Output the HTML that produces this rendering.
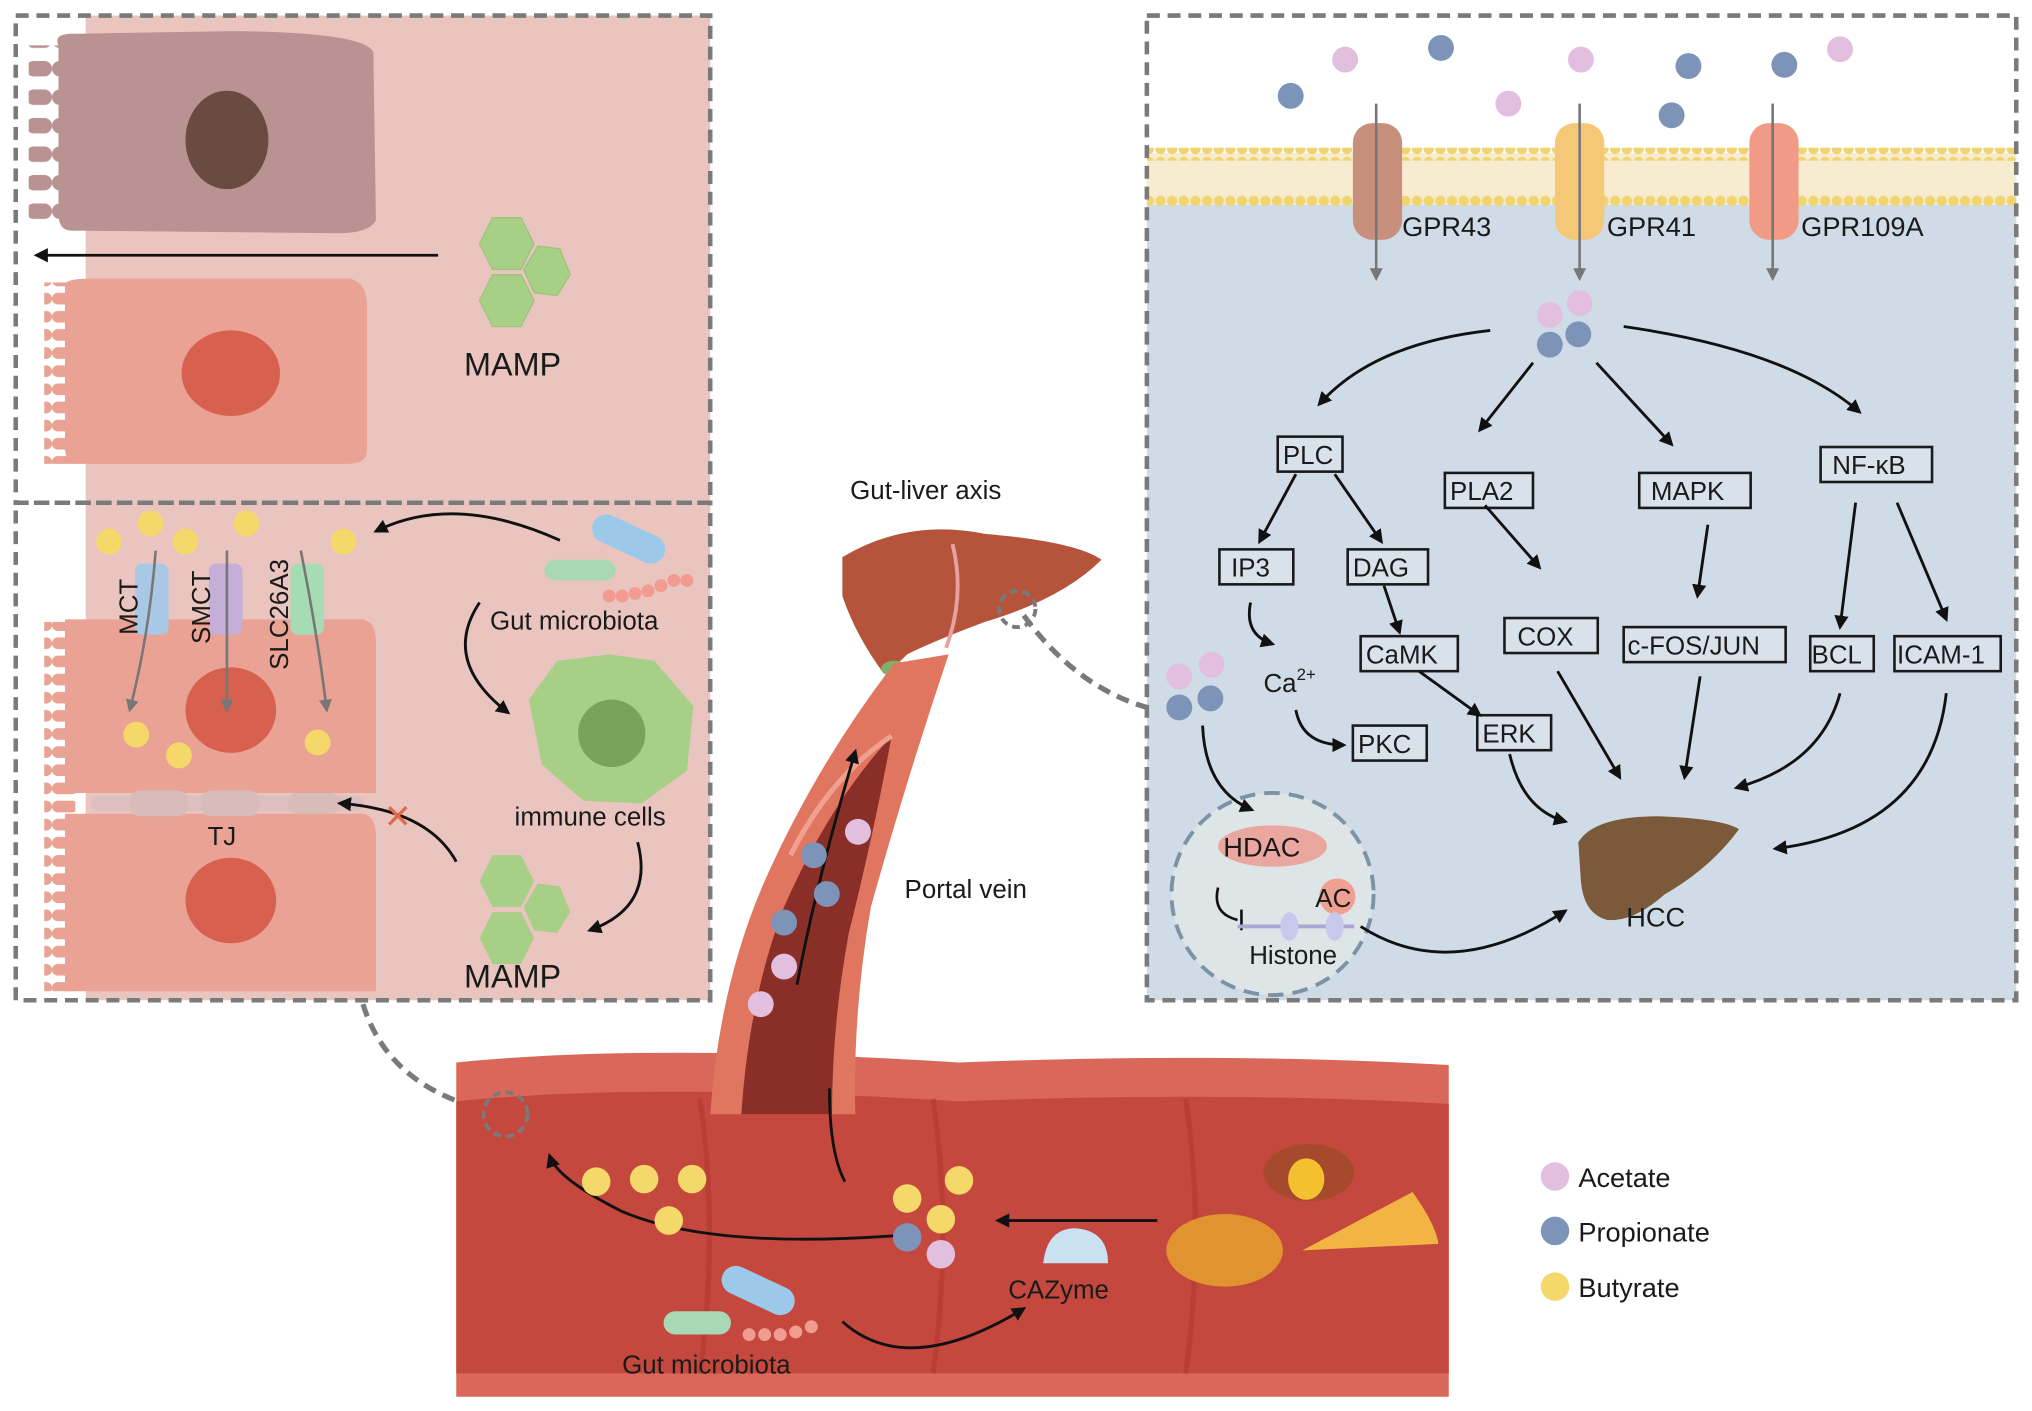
<!DOCTYPE html>
<html><head><meta charset="utf-8"><style>
html,body{margin:0;padding:0;background:#fff}
svg{display:block}
text{font-family:"Liberation Sans",Arial,sans-serif;fill:#1a1a1a}
.bx{fill:#d9e2ea;stroke:#1a1a1a;stroke-width:2}
.ar{fill:none;stroke:#111;stroke-width:2.2;marker-end:url(#ah)}
</style></head><body>
<svg width="2032" height="1411" viewBox="0 0 1568 1089" xmlns="http://www.w3.org/2000/svg">
<defs>
<marker id="ah" viewBox="0 0 10 10" refX="8" refY="5" markerWidth="5" markerHeight="5" orient="auto"><path d="M0,0L10,5L0,10z" fill="#111"/></marker>
<marker id="ag" viewBox="0 0 10 10" refX="8" refY="5" markerWidth="5" markerHeight="5" orient="auto"><path d="M0,0L10,5L0,10z" fill="#777"/></marker>
<pattern id="lip" width="9" height="10" patternUnits="userSpaceOnUse"><circle cx="4.5" cy="5" r="4" fill="#f0d470"/></pattern>
<pattern id="mv" width="20" height="14" patternUnits="userSpaceOnUse"><rect x="0" y="2" width="20" height="9" rx="4.5" fill="#e9a294"/></pattern>
<pattern id="mv2" width="20" height="22" patternUnits="userSpaceOnUse"><rect x="0" y="3" width="20" height="12" rx="6" fill="#b89392"/></pattern>
</defs>
<!-- left panels -->
<rect x="12" y="12" width="536" height="760" fill="#fff"/>
<rect x="66" y="12" width="482" height="760" fill="#eac5bf"/>
<!-- top cells -->
<rect x="22" y="35" width="30" height="140" fill="url(#mv2)"/>
<path d="M45,35 Q40,25 60,26 L180,24 Q280,25 288,40 L290,170 Q285,180 260,180 L55,178 Q45,178 45,165 Z" fill="#b89392"/>
<ellipse cx="175" cy="108" rx="32" ry="38" fill="#6b4a42"/>
<rect x="34" y="218" width="24" height="140" fill="url(#mv)"/>
<path d="M50,220 Q50,215 70,215 L270,215 Q283,218 283,235 L283,348 Q283,358 268,358 L60,358 Q50,358 50,345Z" fill="#e9a294"/>
<ellipse cx="178" cy="288" rx="38" ry="33" fill="#d8604f"/>
<line x1="338" y1="197" x2="28" y2="197" class="ar"/>
<g fill="#a8cf86" stroke="#9cc47a"><polygon points="380,168 402,168 412,188 402,208 380,208 370,188"/><polygon points="415,190 432,192 440,212 430,228 412,226 404,208"/><polygon points="380,212 402,212 412,232 402,252 380,252 370,232"/></g>
<text x="358" y="290" font-size="25">MAMP</text>
<rect x="12" y="12" width="536" height="376" fill="none" stroke="#7a7a7a" stroke-width="3.5" stroke-dasharray="10,6"/>
<!-- bottom cells -->
<rect x="34" y="480" width="24" height="285" fill="url(#mv)"/>
<path d="M50,478 L280,478 Q290,480 290,495 L290,612 L50,612Z" fill="#e9a294"/>
<path d="M50,628 L280,628 Q290,630 290,645 L290,765 L50,765Z" fill="#e9a294"/>
<ellipse cx="178" cy="548" rx="35" ry="33" fill="#d8604f"/>
<ellipse cx="178" cy="695" rx="35" ry="33" fill="#d8604f"/>
<rect x="70" y="614" width="210" height="12" rx="6" fill="#dcc0bf"/>
<rect x="100" y="610" width="45" height="20" rx="8" fill="#d8bcba"/><rect x="155" y="610" width="45" height="20" rx="8" fill="#d8bcba"/><rect x="222" y="612" width="40" height="16" rx="7" fill="#d8bcba"/>
<text x="160" y="652" font-size="20">TJ</text>
<g fill="#f4d86a"><circle cx="84" cy="418" r="10"/><circle cx="116" cy="404" r="10"/><circle cx="143" cy="418" r="10"/><circle cx="190" cy="404" r="10"/><circle cx="265" cy="418" r="10"/><circle cx="105" cy="567" r="10"/><circle cx="138" cy="583" r="10"/><circle cx="245" cy="573" r="10"/></g>
<rect x="104" y="435" width="26" height="55" rx="6" fill="#a9c8e6"/><rect x="161" y="435" width="26" height="55" rx="6" fill="#c5aed8"/><rect x="224" y="435" width="26" height="55" rx="6" fill="#a5dcb3"/>
<g stroke="#777" stroke-width="2" fill="none" marker-end="url(#ag)"><path d="M120,425 Q115,490 100,548"/><path d="M175,425 L175,548"/><path d="M232,425 Q245,490 252,548"/></g>
<text transform="translate(106,490) rotate(-90)" font-size="20">MCT</text>
<text transform="translate(162,497) rotate(-90)" font-size="20">SMCT</text>
<text transform="translate(222,517) rotate(-90)" font-size="20">SLC26A3</text>
<path d="M432,417 Q350,380 290,410" class="ar"/>
<rect x="455" y="405" width="60" height="22" rx="11" fill="#9cc9ea" transform="rotate(25 485 416)"/>
<rect x="420" y="432" width="55" height="16" rx="8" fill="#a8d8b5"/>
<g fill="#f29b90"><circle cx="470" cy="460" r="5"/><circle cx="480" cy="460" r="5"/><circle cx="490" cy="458" r="5"/><circle cx="500" cy="456" r="5"/><circle cx="510" cy="452" r="5"/><circle cx="520" cy="448" r="5"/><circle cx="530" cy="448" r="5"/></g>
<text x="378" y="486" font-size="20">Gut microbiota</text>
<path d="M370,465 Q340,510 392,550" class="ar"/>
<polygon points="470,505 505,510 535,545 530,595 495,620 450,618 418,590 408,540 430,510" fill="#a8cf86"/>
<circle cx="472" cy="566" r="26" fill="#7aa35a"/>
<text x="397" y="637" font-size="20">immune cells</text>
<path d="M492,650 Q505,700 455,718" class="ar"/>
<g fill="#a8cf86"><polygon points="380,660 402,660 412,680 402,700 380,700 370,680"/><polygon points="415,682 432,684 440,704 430,720 412,718 404,700"/><polygon points="380,704 402,704 412,724 402,744 380,744 370,724"/></g>
<text x="358" y="762" font-size="25">MAMP</text>
<path d="M352,665 Q330,625 262,620" class="ar"/>
<text x="296" y="639" font-size="26" style="fill:#e06a4a">✕</text>
<rect x="12" y="388" width="536" height="384" fill="none" stroke="#7a7a7a" stroke-width="3.5" stroke-dasharray="10,6"/>
<path d="M280,775 Q300,840 380,858" fill="none" stroke="#7a7a7a" stroke-width="4" stroke-dasharray="10,6"/>
<!-- right panel -->
<rect x="885" y="12" width="671" height="760" fill="#fff"/>
<rect x="885" y="130" width="671" height="642" fill="#cfdbe6"/>
<rect x="885" y="118" width="671" height="40" fill="#f7ecd0"/>
<rect x="885" y="114" width="671" height="10" fill="url(#lip)"/><rect x="885" y="150" width="671" height="10" fill="url(#lip)"/>
<rect x="1044" y="95" width="38" height="90" rx="15" fill="#c8907c"/>
<rect x="1200" y="95" width="38" height="90" rx="15" fill="#f5c878"/>
<rect x="1350" y="95" width="38" height="90" rx="15" fill="#f19a85"/>
<g stroke="#777" stroke-width="2" marker-end="url(#ag)"><line x1="1062" y1="80" x2="1062" y2="215"/><line x1="1219" y1="80" x2="1219" y2="215"/><line x1="1368" y1="80" x2="1368" y2="215"/></g>
<text x="1082" y="182" font-size="21">GPR43</text><text x="1240" y="182" font-size="21">GPR41</text><text x="1390" y="182" font-size="21">GPR109A</text>
<g fill="#e3bfdf"><circle cx="1038" cy="46" r="10"/><circle cx="1164" cy="80" r="10"/><circle cx="1220" cy="46" r="10"/><circle cx="1420" cy="38" r="10"/><circle cx="1196" cy="243" r="10"/><circle cx="1219" cy="234" r="10"/><circle cx="910" cy="522" r="10"/><circle cx="935" cy="513" r="10"/></g>
<g fill="#7d93b8"><circle cx="996" cy="74" r="10"/><circle cx="1112" cy="37" r="10"/><circle cx="1303" cy="51" r="10"/><circle cx="1290" cy="89" r="10"/><circle cx="1377" cy="50" r="10"/><circle cx="1196" cy="266" r="10"/><circle cx="1218" cy="258" r="10"/><circle cx="910" cy="546" r="10"/><circle cx="934" cy="539" r="10"/></g>
<path d="M1150,255 Q1060,265 1018,312" class="ar"/>
<path d="M1183,280 L1142,332" class="ar"/>
<path d="M1232,280 L1290,343" class="ar"/>
<path d="M1253,252 Q1380,270 1435,318" class="ar"/>
<g font-size="20">
<rect x="986" y="337" width="50" height="27" class="bx"/><text x="990" y="358">PLC</text>
<rect x="1115" y="365" width="68" height="27" class="bx"/><text x="1119" y="386">PLA2</text>
<rect x="1265" y="365" width="86" height="27" class="bx"/><text x="1274" y="386">MAPK</text>
<rect x="1405" y="345" width="86" height="27" class="bx"/><text x="1414" y="366">NF-κB</text>
<rect x="941" y="424" width="57" height="27" class="bx"/><text x="950" y="445">IP3</text>
<rect x="1040" y="424" width="62" height="27" class="bx"/><text x="1044" y="445">DAG</text>
<rect x="1050" y="491" width="75" height="27" class="bx"/><text x="1054" y="512">CaMK</text>
<rect x="1161" y="477" width="72" height="27" class="bx"/><text x="1171" y="498">COX</text>
<rect x="1253" y="484" width="125" height="27" class="bx"/><text x="1256" y="505">c-FOS/JUN</text>
<rect x="1397" y="491" width="49" height="27" class="bx"/><text x="1398" y="512">BCL</text>
<rect x="1462" y="491" width="82" height="27" class="bx"/><text x="1464" y="512">ICAM-1</text>
<rect x="1044" y="560" width="57" height="27" class="bx"/><text x="1048" y="581">PKC</text>
<rect x="1140" y="552" width="57" height="27" class="bx"/><text x="1144" y="573">ERK</text>
<text x="975" y="534">Ca<tspan font-size="13" dy="-9">2+</tspan></text>
</g>
<path d="M1000,366 L972,418" class="ar"/><path d="M1030,366 L1066,418" class="ar"/>
<path d="M1068,452 L1080,488" class="ar"/><path d="M1095,518 L1142,552" class="ar"/>
<path d="M965,465 Q960,490 982,497" class="ar"/><path d="M1000,548 Q1005,575 1037,575" class="ar"/>
<path d="M1146,390 L1188,438" class="ar"/><path d="M1318,405 L1310,460" class="ar"/>
<path d="M1432,388 L1420,484" class="ar"/><path d="M1464,388 L1502,478" class="ar"/>
<path d="M1202,518 L1250,600" class="ar"/><path d="M1312,522 L1300,600" class="ar"/>
<path d="M1165,582 Q1175,625 1208,634" class="ar"/>
<path d="M1420,535 Q1405,590 1340,608" class="ar"/>
<path d="M1502,535 Q1490,640 1370,655" class="ar"/>
<circle cx="982" cy="690" r="78" fill="#dde5e6" stroke="#7c93a6" stroke-width="3" stroke-dasharray="12,7"/>
<path d="M928,560 Q930,610 966,625" class="ar"/>
<ellipse cx="982" cy="653" rx="42" ry="16" fill="#e9a7a0"/><text x="944" y="661" font-size="21">HDAC</text>
<circle cx="1032" cy="692" r="14" fill="#f0a090"/><text x="1015" y="700" font-size="20">AC</text>
<path d="M940,685 Q935,705 955,710 M958,702 L958,718" fill="none" stroke="#111" stroke-width="2"/>
<line x1="955" y1="715" x2="1045" y2="715" stroke="#a9a9d6" stroke-width="3"/>
<ellipse cx="995" cy="715" rx="7" ry="11" fill="#c8c8ec"/><ellipse cx="1030" cy="715" rx="7" ry="11" fill="#c8c8ec"/>
<text x="964" y="744" font-size="20">Histone</text>
<path d="M1050,715 Q1120,760 1208,703" class="ar"/>
<path d="M1218,650 Q1230,630 1280,630 Q1330,632 1342,640 Q1320,670 1285,690 Q1260,712 1240,710 Q1222,705 1220,680Z" fill="#7a5a3a"/>
<text x="1255" y="715" font-size="21">HCC</text>
<rect x="885" y="12" width="671" height="760" fill="none" stroke="#7a7a7a" stroke-width="3.5" stroke-dasharray="10,6"/>
<path d="M790,475 Q830,530 885,546" fill="none" stroke="#7a7a7a" stroke-width="4" stroke-dasharray="10,6"/>
<!-- liver -->
<text x="656" y="385" font-size="20">Gut-liver axis</text>
<text x="698" y="693" font-size="20">Portal vein</text>
<path d="M650,430 Q700,400 760,412 Q830,418 850,432 Q820,462 760,480 Q720,495 700,505 Q690,515 682,520 Q660,490 650,460Z" fill="#b5533b"/>
<path d="M735,420 Q745,460 730,500" fill="none" stroke="#e8a0a0" stroke-width="3"/>
<ellipse cx="690" cy="516" rx="10" ry="6" fill="#7fb069"/>
<circle cx="785" cy="470" r="14" fill="none" stroke="#7a7a7a" stroke-width="3" stroke-dasharray="6,4"/>
<!-- intestine -->
<path d="M352,820 Q500,805 740,820 Q950,812 1118,822 L1118,1078 L352,1078Z" fill="#d9685a"/>
<path d="M352,850 Q500,835 740,850 Q950,842 1118,852 L1118,1060 L352,1060Z" fill="#c5483e"/>
<g stroke="#b03a32" stroke-width="4" fill="none" opacity="0.6"><path d="M540,848 Q555,950 540,1060"/><path d="M720,848 Q735,950 720,1060"/><path d="M915,848 Q930,950 915,1060"/></g>
<!-- portal vein -->
<path d="M690,512 L732,505 Q700,600 672,700 Q658,780 660,860 L548,860 Q555,760 590,680 Q630,590 690,512Z" fill="#e07560"/>
<path d="M688,568 Q675,640 655,720 Q642,790 642,860 L572,860 Q578,770 605,700 Q640,620 688,568Z" fill="#8a2f28"/>
<path d="M688,568 Q640,600 610,660" fill="none" stroke="#f0a090" stroke-width="4"/>
<path d="M615,760 Q630,680 660,580" class="ar"/>
<g fill="#e3bfdf"><circle cx="662" cy="642" r="10"/><circle cx="605" cy="746" r="10"/><circle cx="587" cy="775" r="10"/></g>
<g fill="#7d93b8"><circle cx="628" cy="660" r="10"/><circle cx="638" cy="690" r="10"/><circle cx="605" cy="712" r="10"/></g>
<circle cx="390" cy="860" r="17" fill="none" stroke="#7a7a7a" stroke-width="3" stroke-dasharray="6,4"/>
<path d="M652,912 Q640,890 640,840" fill="none" stroke="#111" stroke-width="2.2"/>
<path d="M700,953 Q550,965 480,935 Q430,910 424,892" class="ar"/>
<path d="M893,942 L770,942" class="ar"/>
<g fill="#f4d86a"><circle cx="460" cy="912" r="11"/><circle cx="497" cy="910" r="11"/><circle cx="534" cy="910" r="11"/><circle cx="516" cy="942" r="11"/><circle cx="700" cy="925" r="11"/><circle cx="740" cy="911" r="11"/><circle cx="726" cy="941" r="11"/></g>
<circle cx="700" cy="955" r="11" fill="#7d93b8"/><circle cx="726" cy="968" r="11" fill="#e3bfdf"/>
<path d="M805,975 Q808,948 830,948 Q855,950 855,975Z" fill="#c9e1f1"/>
<text x="778" y="1002" font-size="20">CAZyme</text>
<ellipse cx="945" cy="965" rx="45" ry="28" fill="#e0932e"/>
<ellipse cx="1010" cy="905" rx="35" ry="22" fill="#a54a2c"/><ellipse cx="1008" cy="910" rx="14" ry="16" fill="#f5c030"/>
<path d="M1005,965 L1090,920 Q1108,945 1110,960 Z" fill="#f2b543"/>
<rect x="555" y="985" width="60" height="22" rx="11" fill="#9cc9ea" transform="rotate(25 585 996)"/>
<rect x="512" y="1012" width="52" height="18" rx="9" fill="#a8d8b5"/>
<g fill="#f29b90"><circle cx="578" cy="1030" r="5"/><circle cx="590" cy="1030" r="5"/><circle cx="602" cy="1030" r="5"/><circle cx="614" cy="1028" r="5"/><circle cx="626" cy="1024" r="5"/></g>
<text x="480" y="1060" font-size="20">Gut microbiota</text>
<path d="M650,1020 Q700,1065 790,1010" class="ar"/>
<!-- legend -->
<circle cx="1200" cy="908" r="11" fill="#e3bfdf"/><text x="1218" y="916" font-size="21">Acetate</text>
<circle cx="1200" cy="950" r="11" fill="#7d93b8"/><text x="1218" y="958" font-size="21">Propionate</text>
<circle cx="1200" cy="993" r="11" fill="#f4d86a"/><text x="1218" y="1001" font-size="21">Butyrate</text>
</svg>
</body></html>
